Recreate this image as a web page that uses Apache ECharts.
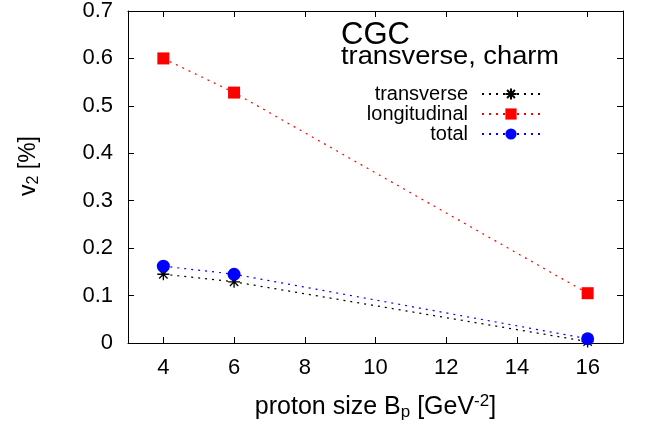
<!DOCTYPE html>
<html>
<head>
<meta charset="utf-8">
<script src="https://cdn.jsdelivr.net/npm/echarts@6/dist/echarts.min.js"></script>
<style>
  html, body { margin: 0; padding: 0; background: #fff; }
  #chart { width: 648px; height: 430px; }
</style>
</head>
<body>
<div id="chart"></div>
<script>
// proton size B_p [GeV^-2]
var protonSize = [4, 6, 16];
var transverse = [0.145, 0.129, 0.003];
var longitudinal = [0.6, 0.528, 0.105];
var total = [0.162, 0.145, 0.009];
var xTicks = [4, 6, 8, 10, 12, 14, 16];

var FONT = "Liberation Sans";
var asterisk = "path://M0,5 L10,5 M5,0 L5,10 M1.5,1.5 L8.5,8.5 M8.5,1.5 L1.5,8.5";

function pairs(ys) {
  return protonSize.map(function (x, i) { return [x, ys[i]]; });
}

var chart = echarts.init(document.getElementById("chart"));

var xBase = {
  type: "value",
  min: 3,
  max: 17,
  splitLine: { show: false },
  axisLine: { show: true, onZero: false, lineStyle: { color: "#000", width: 1 } },
  axisTick: { show: true, inside: true, length: 6, customValues: xTicks, lineStyle: { color: "#000" } }
};
var yBase = {
  type: "value",
  min: 0,
  max: 0.7,
  interval: 0.1,
  splitLine: { show: false },
  axisLine: { show: true, onZero: false, lineStyle: { color: "#000", width: 1 } },
  axisTick: { show: true, inside: true, length: 6, lineStyle: { color: "#000" } }
};

var option = {
  animation: false,
  textStyle: { fontFamily: FONT },
  grid: { left: 128, right: 25, top: 10, bottom: 87, containLabel: false },
  xAxis: [
    Object.assign({}, xBase, {
      position: "bottom",
      axisLabel: { customValues: xTicks, color: "#000", fontSize: 22, margin: 14, fontFamily: FONT },
      name: "{a|proton size B}{sub|p}{a| [GeV}{sup|-2}{a|]}",
      nameLocation: "middle",
      nameGap: 50,
      nameTextStyle: {
        color: "#000",
        fontSize: 25,
        fontFamily: FONT,
        rich: {
          a: { fontSize: 25, lineHeight: 28, color: "#000", fontFamily: FONT },
          sub: { fontSize: 17, lineHeight: 17, verticalAlign: "bottom", color: "#000", fontFamily: FONT },
          sup: { fontSize: 17, lineHeight: 17, verticalAlign: "top", color: "#000", fontFamily: FONT }
        }
      }
    }),
    Object.assign({}, xBase, { position: "top", axisLabel: { show: false } })
  ],
  yAxis: [
    Object.assign({}, yBase, {
      position: "left",
      axisLabel: { color: "#000", fontSize: 22, margin: 15, fontFamily: FONT },
      name: "{a|v}{sub|2}{a| [%]}",
      nameLocation: "middle",
      nameGap: 86,
      nameTextStyle: {
        color: "#000",
        fontSize: 23,
        fontFamily: FONT,
        padding: [0, 0, 0, 22],
        rich: {
          a: { fontSize: 23, lineHeight: 26, color: "#000", fontFamily: FONT },
          sub: { fontSize: 16, lineHeight: 16, verticalAlign: "bottom", color: "#000", fontFamily: FONT }
        }
      }
    }),
    Object.assign({}, yBase, { position: "right", axisLabel: { show: false } })
  ],
  legend: {
    orient: "vertical",
    align: "right",
    right: 102,
    top: 79,
    itemWidth: 58,
    itemHeight: 14,
    itemGap: 0,
    textStyle: { fontSize: 20, lineHeight: 20, color: "#000", fontFamily: FONT, padding: [0, 9, 0, 0] },
    data: ["transverse", "longitudinal", "total"]
  },
  graphic: [
    { type: "text", left: 341, top: 20, style: { text: "CGC", font: "31px Liberation Sans", fill: "#000" } },
    { type: "text", left: 341, top: 45, style: { text: "transverse, charm", font: "25px Liberation Sans", fill: "#000" }, scaleX: 1.09 }
  ],
  series: [
    {
      name: "transverse",
      type: "line",
      data: pairs(transverse),
      symbol: asterisk,
      symbolSize: 12,
      itemStyle: { color: "#000", borderColor: "#000", borderWidth: 1.3 },
      lineStyle: { color: "#000", width: 1.2, type: [2, 5] },
      z: 2
    },
    {
      name: "longitudinal",
      type: "line",
      data: pairs(longitudinal),
      symbol: "rect",
      symbolSize: 12,
      itemStyle: { color: "#ff0000" },
      lineStyle: { color: "#ff0000", width: 1.2, type: [2, 5] },
      z: 3
    },
    {
      name: "total",
      type: "line",
      data: pairs(total),
      symbol: "circle",
      symbolSize: 13,
      itemStyle: { color: "#0000ff" },
      lineStyle: { color: "#0000ff", width: 1.2, type: [2, 5] },
      z: 4
    }
  ]
};

chart.setOption(option);
</script>
</body>
</html>
